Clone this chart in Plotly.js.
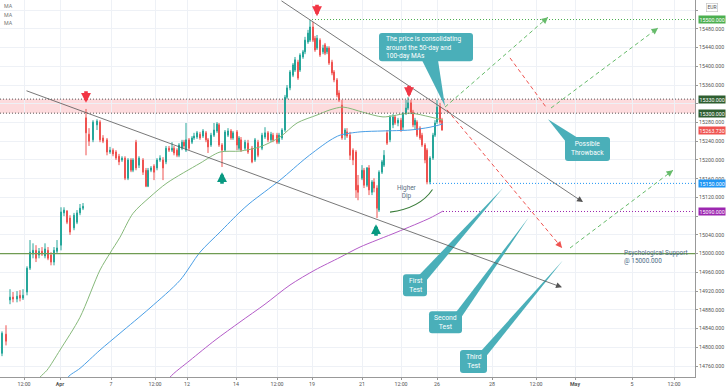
<!DOCTYPE html>
<html><head><meta charset="utf-8">
<script src="https://cdn.plot.ly/plotly-3.0.1.min.js"></script>
<style>html,body{margin:0;padding:0;background:#fff}#chart{width:728px;height:391px}</style>
</head><body><div id="chart"></div>
<script>
// time in trading days from 1 Apr (0 = 1 Apr 00:00)
const barTime = [-2.32,-2.16,-2.0,-1.88,-1.72,-1.6,-1.48,-1.32,-1.2,-1.08,
-0.96,-0.84,-0.72,-0.6,-0.48,-0.36,-0.24,-0.12,0.04,0.16,
0.28,0.4,0.56,0.68,0.8,0.92,1.04,1.16,1.32,1.48,
1.6,1.72,1.88,2.0,2.12,2.24,2.36,2.48,2.6,2.72,
2.84,2.92,3.04,3.16,3.32,3.44,3.52,3.64,3.76,3.88,
4.0,4.12,4.24,4.36,4.48,4.56,4.68,4.76,4.88,4.96,
5.04,5.16,5.28,5.36,5.48,5.6,5.72,5.84,5.92,6.04,
6.16,6.28,6.36,6.48,6.6,6.72,6.84,6.92,7.08,7.16,
7.24,7.4,7.52,7.68,7.8,7.92,8.08,8.2,8.32,8.44,
8.52,8.68,8.76,8.88,9.0,9.08,9.2,9.32,9.4,9.52,
9.6,9.72,9.8,9.92,10.0,10.12,10.2,10.28,10.4,10.52,
10.6,10.68,10.76,10.88,10.96,11.08,11.16,11.28,11.4,11.48,
11.6,11.72,11.84,11.92,12.08,12.16,12.28,12.36,12.48,12.56,
12.68,12.76,12.88,12.96,13.08,13.2,13.32,13.4,13.52,13.64,
13.72,13.84,13.92,14.04,14.12,14.2,14.28,14.4,14.48,14.6,
14.68,14.8,14.92,15.0,15.08,15.2,15.28];
const openP = [14787,14828,14901,14907,14903,14911,14905,14918,14969,14999,
15007,14997,15005,14995,15007,14997,14982,15005,15018,15087,
15091,15076,15055,15067,15087,15097,15290,15255,15243,15275,
15281,15247,15243,15217,15221,15217,15208,15200,15204,15161,
15200,15178,15238,15189,15200,15178,15144,15178,15187,15183,
15200,15200,15196,15225,15221,15225,15221,15210,15225,15238,
15221,15243,15238,15247,15249,15255,15251,15258,15243,15232,
15253,15262,15275,15232,15221,15253,15262,15247,15260,15225,
15243,15225,15236,15225,15200,15238,15225,15249,15258,15243,
15253,15253,15238,15247,15264,15334,15354,15381,15392,15409,
15392,15420,15431,15452,15456,15484,15460,15439,15456,15431,
15446,15431,15439,15409,15388,15371,15343,15317,15253,15260,
15253,15221,15217,15146,15161,15178,15146,15183,15131,15153,
15140,15093,15174,15189,15258,15243,15275,15292,15279,15285,
15270,15300,15311,15322,15302,15275,15281,15268,15253,15232,
15221,15153,15204,15253,15281,15313,15285];
const highP = [14834,14847,14924,14918,14920,14922,14924,14973,15029,15022,
15018,15012,15014,15022,15014,15003,15014,15029,15099,15099,
15093,15082,15087,15093,15106,15108,15309,15268,15285,15287,
15285,15253,15247,15228,15225,15221,15213,15208,15208,15204,
15204,15204,15243,15208,15204,15183,15183,15187,15191,15204,
15210,15206,15230,15230,15238,15230,15225,15236,15243,15243,
15279,15247,15251,15258,15262,15260,15266,15262,15247,15258,
15279,15281,15279,15236,15264,15268,15266,15262,15264,15251,
15249,15243,15243,15230,15247,15243,15258,15270,15262,15260,
15258,15258,15258,15268,15339,15360,15392,15407,15420,15414,
15428,15435,15463,15478,15499,15495,15465,15467,15460,15446,
15450,15443,15443,15414,15392,15375,15349,15328,15268,15268,
15260,15225,15221,15168,15189,15183,15185,15189,15157,15161,
15146,15178,15200,15221,15264,15296,15298,15296,15290,15290,
15302,15328,15334,15328,15307,15290,15285,15272,15258,15236,
15225,15208,15258,15285,15328,15322,15290];
const lowP = [14781,14804,14892,14896,14896,14898,14901,14911,14965,14990,
14982,14990,14995,14990,14986,14975,14975,15001,15007,15080,
15063,15040,15050,15063,15082,15093,15210,15230,15238,15264,
15238,15236,15210,15213,15208,15200,15189,15196,15157,15157,
15174,15174,15178,15183,15168,15142,15142,15174,15157,15178,
15196,15157,15191,15217,15217,15210,15206,15206,15221,15225,
15217,15221,15234,15243,15245,15243,15247,15238,15215,15228,
15249,15258,15228,15185,15217,15249,15243,15243,15221,15221,
15217,15221,15213,15193,15196,15206,15221,15245,15238,15238,
15238,15234,15234,15243,15260,15330,15349,15377,15388,15371,
15388,15416,15426,15448,15452,15452,15431,15435,15420,15426,
15424,15426,15403,15381,15366,15334,15324,15243,15243,15247,
15200,15189,15119,15114,15157,15140,15142,15125,15125,15131,
15076,15089,15170,15185,15232,15238,15268,15275,15272,15260,
15264,15296,15307,15298,15270,15264,15249,15243,15228,15193,
15148,15148,15200,15249,15277,15277,15264];
const closeP = [14830,14813,14907,14903,14909,14905,14911,14969,15003,15007,
14990,15005,14999,15010,14990,14982,15007,15012,15089,15093,
15067,15046,15082,15087,15097,15101,15258,15240,15281,15283,
15243,15240,15217,15221,15213,15204,15196,15204,15161,15200,
15178,15200,15183,15204,15174,15144,15178,15183,15174,15200,
15204,15183,15225,15221,15225,15215,15210,15232,15238,15230,
15243,15225,15247,15251,15258,15247,15262,15243,15228,15253,
15264,15277,15232,15221,15260,15262,15247,15258,15232,15247,
15221,15238,15217,15196,15243,15210,15253,15258,15243,15255,
15243,15238,15253,15264,15334,15354,15388,15403,15414,15375,
15424,15431,15456,15471,15484,15456,15435,15460,15424,15439,
15428,15439,15407,15386,15371,15339,15328,15247,15264,15251,
15210,15200,15136,15131,15178,15146,15183,15136,15153,15140,
15097,15174,15196,15210,15236,15292,15292,15279,15285,15264,
15300,15311,15322,15302,15275,15285,15253,15247,15232,15200,
15153,15204,15253,15279,15313,15281,15263.73];

// moving averages
const ma50Time = [-0.96,-0.8,-0.52,0,0.8,1.6,2.0,2.4,2.92,3.6,4.28,5.6,6.4,7.2,8.0,8.8,9.48,10.28,10.8,11.32,12.12,12.92,14.0,14.8,15.32];
const ma50 = [14719,14736,14751,14794,14864,14965,15001,15035,15086,15121,15151,15193,15217,15219,15228,15249,15279,15296,15307,15313,15302,15292,15300,15292,15285];
const ma100Time = [0.2,0.32,0.8,1.6,2.4,3.6,4.8,5.6,6.4,7.2,7.6,8.8,9.88,10.8,11.2,12.0,12.92,14.0,14.8,15.32];
const ma100 = [14712,14736,14755,14794,14830,14884,14943,15003,15046,15089,15108,15157,15206,15242,15253,15260,15262,15264,15270,15277];
const ma200Time = [4.2,4.4,5.2,6.2,7.2,8.2,9.2,10.2,11.2,12.0,13.48,14.8,15.32];
const ma200 = [14715,14736,14772,14815,14854,14892,14933,14965,14992,15014,15046,15076,15091];

// axis ticks
const xTickPos = [-1.44,0,2.04,3.8,5.08,7.04,8.68,10.08,12.08,13.64,15.08,17.28,19.04,20.6,22.88,24.56];
const xTickText = ['12:00','<b>Apr</b>','7','12:00','12','14','12:00','19','21','12:00','26','28','12:00','<b>May</b>','5','12:00'];
const yTickVals = [14760,14800,14840,14880,14920,14960,15000,15040,15080,15120,15160,15200,15240,15280,15320,15360,15400,15440,15480,15520];
const yTickHidden = [15080,15320,15520]; // covered by the price labels in the picture
const xRange = [-2.4, 25.4];
const yRange = [14736.5, 15541.7];

// price levels
const peakLevel = 15500, zoneTop = 15330, zoneBottom = 15300, lastPrice = 15263.73;
const dipLevel = 15150, ma200Level = 15090, psychLevel = 15000;

// drawings (time in days, price)
const upperTrend = [[8.8,15542],[20.92,15110]];
const lowerTrend = [[-1.4,15349],[20.08,14928]];
const greenPaths = [[[15.4,15313],[19.52,15505]],[[19.64,15311],[23.92,15482]],[[20.4,15012],[24.52,15178]]];
const redPaths = [[[18.0,15418],[19.44,15313]],[[15.48,15307],[20.08,15012]]];
const downArrows = [[1.04,15322],[10.28,15507],[13.96,15334]];
const upArrows = [[6.48,15174],[12.64,15063]];

const TEAL = '#4aafb9';
const FONT = 'Roboto, "Open Sans", sans-serif';

function rr(x0,x1,y0,y1){ // rounded rect in data units
  const rx=0.12, ry=6.4;
  return `M ${x0+rx},${y1} L ${x1-rx},${y1} Q ${x1},${y1} ${x1},${y1-ry} L ${x1},${y0+ry} Q ${x1},${y0} ${x1-rx},${y0} L ${x0+rx},${y0} Q ${x0},${y0} ${x0},${y0+ry} L ${x0},${y1-ry} Q ${x0},${y1} ${x0+rx},${y1} Z`;
}
function tri(a,b,c){ return `M ${a[0]},${a[1]} L ${b[0]},${b[1]} L ${c[0]},${c[1]} Z`; }

const callouts = [
  {box:[12.76,16.52,15411,15471], tail:[[14.48,15413],[15.12,15413],[15.4,15315]], text:'The price is consolidating<br>around the 50-day and<br>100-day MAs', left:true, size:6.6},
  {box:[20.2,22.0,15198,15249], tail:[[20.2,15241],[20.72,15247],[19.52,15287]], text:'Possible<br>Throwback', size:6.6},
  {box:[13.72,14.68,14909,14956], tail:[[14.36,14954],[14.68,14944],[17.72,15140]], text:'First<br>Test', size:6.8},
  {box:[14.76,16.08,14830,14877], tail:[[15.84,14875],[16.08,14866],[18.76,15078]], text:'Second<br>Test', size:6.8},
  {box:[16.0,17.08,14745,14794], tail:[[16.84,14792],[17.08,14783],[20.12,14986]], text:'Third<br>Test', size:6.8}
];

const traces = [
  {type:'scatter', mode:'lines', x:ma50Time, y:ma50, line:{color:'#86b97a', width:1, shape:'spline', smoothing:0.8}, hoverinfo:'skip'},
  {type:'scatter', mode:'lines', x:ma100Time, y:ma100, line:{color:'#4a9fe6', width:1, shape:'spline', smoothing:0.8}, hoverinfo:'skip'},
  {type:'scatter', mode:'lines', x:ma200Time, y:ma200, line:{color:'#b45cc8', width:1, shape:'spline', smoothing:0.8}, hoverinfo:'skip'},
  {type:'candlestick', x:barTime, open:openP, high:highP, low:lowP, close:closeP,
   increasing:{line:{color:'#26a69a', width:1}, fillcolor:'#26a69a'},
   decreasing:{line:{color:'#ef5350', width:1}, fillcolor:'#ef5350'},
   whiskerwidth:0, hoverinfo:'skip'}
];

const DOT = '1px,2px', DASH = '4px,3px';
const shapes = [
  {type:'rect', xref:'paper', x0:0, x1:1, yref:'y', y0:zoneBottom, y1:zoneTop, fillcolor:'rgba(242,54,69,0.18)', line:{width:0}, layer:'below'},
  {type:'line', xref:'paper', x0:0, x1:1, yref:'y', y0:zoneTop, y1:zoneTop, line:{color:'#555', width:1, dash:DOT}},
  {type:'line', xref:'paper', x0:0, x1:1, yref:'y', y0:zoneBottom, y1:zoneBottom, line:{color:'#555', width:1, dash:DOT}},
  {type:'line', xref:'x', x0:10.08, x1:xRange[1], yref:'y', y0:peakLevel, y1:peakLevel, line:{color:'#4caf50', width:1, dash:DOT}},
  {type:'line', xref:'x', x0:14.8, x1:xRange[1], yref:'y', y0:dipLevel, y1:dipLevel, line:{color:'#2196f3', width:1, dash:DOT}},
  {type:'line', xref:'x', x0:15.32, x1:xRange[1], yref:'y', y0:ma200Level, y1:ma200Level, line:{color:'#9c27b0', width:1, dash:DOT}},
  {type:'line', xref:'paper', x0:0, x1:1, yref:'y', y0:psychLevel, y1:psychLevel, line:{color:'#6f9b52', width:1.2}},
  {type:'path', xref:'x', yref:'y', path:'M 13.2,15088.7 Q 14.4,15097 14.9,15137', line:{color:'#3a7d3a', width:1.1}}
];
greenPaths.forEach(p=>shapes.push({type:'line', xref:'x', yref:'y', x0:p[0][0], y0:p[0][1], x1:p[1][0], y1:p[1][1], line:{color:'#66bb6a', width:1, dash:DASH}}));
redPaths.forEach(p=>shapes.push({type:'line', xref:'x', yref:'y', x0:p[0][0], y0:p[0][1], x1:p[1][0], y1:p[1][1], line:{color:'#ef5350', width:1, dash:DASH}}));
callouts.forEach(c=>{
  shapes.push({type:'path', xref:'x', yref:'y', path:rr(c.box[0],c.box[1],c.box[2],c.box[3]), fillcolor:TEAL, line:{width:0}});
  shapes.push({type:'path', xref:'x', yref:'y', path:tri(c.tail[0],c.tail[1],c.tail[2]), fillcolor:TEAL, line:{width:0}});
});

const annotations = [];
function headArrow(p0,p1,color,w,frac,size){
  annotations.push({x:p1[0], y:p1[1], xref:'x', yref:'y', ax:p1[0]-(p1[0]-p0[0])*frac, ay:p1[1]-(p1[1]-p0[1])*frac, axref:'x', ayref:'y',
    text:'', showarrow:true, arrowhead:2, arrowsize:size, arrowwidth:w, arrowcolor:color, standoff:0, startstandoff:0});
}
headArrow(upperTrend[0], upperTrend[1], '#555', 0.8, 1, 1.5);
headArrow(lowerTrend[0], lowerTrend[1], '#555', 0.8, 1, 1.5);
greenPaths.forEach(p=>headArrow(p[0],p[1],'#66bb6a',1,0.05,1.3));
redPaths.forEach(p=>headArrow(p[0],p[1],'#ef5350',1,0.05,1.3));
headArrow([14.4,15097],[14.9,15137],'#3a7d3a',1.1,0.15,1.3);
downArrows.forEach(a=>annotations.push({x:a[0], y:a[1], xref:'x', yref:'y', ax:0, ay:-13, text:'', showarrow:true, arrowhead:2, arrowsize:0.55, arrowwidth:3.6, arrowcolor:'#f23645', standoff:0}));
upArrows.forEach(a=>annotations.push({x:a[0], y:a[1], xref:'x', yref:'y', ax:0, ay:13, text:'', showarrow:true, arrowhead:2, arrowsize:0.55, arrowwidth:3.6, arrowcolor:'#089981', standoff:0}));
callouts.forEach(c=>{
  const cx = c.left ? c.box[0]+0.2 : (c.box[0]+c.box[1])/2;
  annotations.push({x:cx, y:(c.box[2]+c.box[3])/2, xref:'x', yref:'y', text:c.text, showarrow:false,
    xanchor: c.left?'left':'center', yanchor:'middle', align: c.left?'left':'center',
    font:{family:FONT, size:c.size, color:'#ffffff'}});
});
annotations.push({x:13.88, y:15131, xref:'x', yref:'y', text:'Higher<br>Dip', showarrow:false, font:{family:FONT, size:6.4, color:'#5b6e82'}, align:'center'});
annotations.push({x:22.48, y:15014, xref:'x', yref:'y', text:'Psychological Support<br>@ 15000.000', showarrow:false, xanchor:'left', yanchor:'top', align:'left', font:{family:FONT, size:6.4, color:'#4b6a86'}});
// right axis price labels
[[peakLevel,'#4caf50'],[zoneTop,'#2e5e30'],[zoneBottom,'#2e5e30'],[lastPrice,'#ef5350'],[dipLevel,'#2196f3'],[ma200Level,'#9c27b0']].forEach(l=>{
  annotations.push({xref:'paper', x:1, xanchor:'left', xshift:3, yref:'y', y:l[0], yanchor:'middle', text:l[0].toFixed(3), showarrow:false,
    bgcolor:l[1], borderpad:0.6, font:{family:FONT, size:5.3, color:'#ffffff'}});
});
annotations.push({xref:'paper', x:1, xanchor:'left', xshift:11, yref:'paper', y:1, yanchor:'top', yshift:-3, text:'EUR', showarrow:false, bgcolor:'#fff', bordercolor:'#bbb', borderwidth:0.6, borderpad:0.8, font:{family:FONT, size:5, color:'#555'}});
[6,15,23].forEach(py=>annotations.push({xref:'paper', x:0, xanchor:'left', xshift:2, yref:'paper', y:1-py/377, yanchor:'middle', text:'MA', showarrow:false, font:{family:FONT, size:5.3, color:'#777'}}));

const layout = {
  width:728, height:391, margin:{l:0, r:33, t:0, b:14},
  paper_bgcolor:'#fff', plot_bgcolor:'#fff', showlegend:false, dragmode:false,
  xaxis:{range:xRange, tickmode:'array', tickvals:xTickPos, ticktext:xTickText, showgrid:true, gridcolor:'#eef1f6', gridwidth:1,
    zeroline:false, showline:true, linecolor:'#999', linewidth:1, ticks:'outside', ticklen:2, tickcolor:'#999',
    tickfont:{family:FONT, size:5.3, color:'#555'}, rangeslider:{visible:false}, fixedrange:true},
  yaxis:{range:yRange, side:'right', tickmode:'array', tickvals:yTickVals,
    ticktext:yTickVals.map(v=>yTickHidden.includes(v)?'':v.toFixed(3)), showgrid:true, gridcolor:'#eef1f6', gridwidth:1,
    zeroline:false, showline:true, linecolor:'#999', linewidth:1, ticks:'outside', ticklen:2, tickcolor:'#999',
    tickfont:{family:FONT, size:5.3, color:'#555'}, fixedrange:true},
  shapes:shapes, annotations:annotations
};
Plotly.newPlot('chart', traces, layout, {staticPlot:true, displayModeBar:false});
</script></body></html>
